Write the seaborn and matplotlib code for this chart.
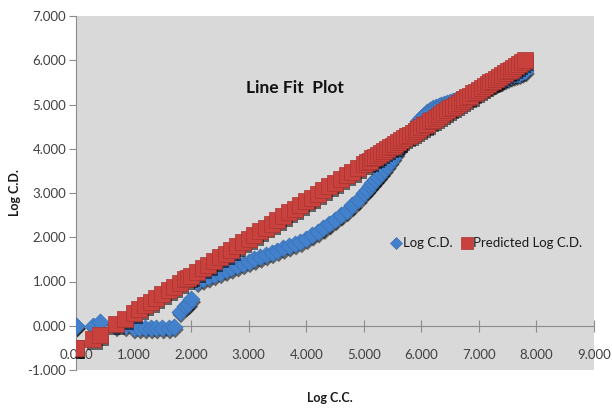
import matplotlib
matplotlib.use("Agg")
import matplotlib.pyplot as plt
import matplotlib.patheffects as pe
import seaborn as sns
import pandas as pd

log_cc = [0.0, 0.0, 0.30, 0.42, 0.69, 0.85, 1.00, 1.10, 1.20, 1.30, 1.39, 1.50, 1.61, 1.70, 1.80, 1.90, 1.95, 2.00,
          2.1, 2.2, 2.3, 2.4, 2.5, 2.6, 2.7, 2.8, 2.9, 3.0,
          3.1, 3.2, 3.3, 3.4, 3.5, 3.6, 3.7, 3.8, 3.9, 4.0,
          4.1, 4.2, 4.3, 4.4, 4.5, 4.6, 4.7, 4.8, 4.9, 5.0,
          5.05, 5.1, 5.15, 5.2, 5.25, 5.3, 5.35, 5.4, 5.45, 5.5,
          5.55, 5.6, 5.65, 5.7, 5.75, 5.8, 5.85, 5.9, 5.95, 6.0,
          6.05, 6.1, 6.15, 6.2, 6.25, 6.3, 6.35, 6.4, 6.45, 6.5,
          6.55, 6.6, 6.65, 6.7, 6.75, 6.8, 6.85, 6.9, 6.95, 7.0,
          7.05, 7.1, 7.15, 7.2, 7.25, 7.3, 7.35, 7.4, 7.45, 7.5,
          7.55, 7.6, 7.65, 7.7, 7.75, 7.8]

log_cd = [0.0, 0.0, 0.0, 0.08, 0.0, 0.0, -0.05, -0.05, -0.05, -0.05, -0.05, -0.05, -0.05, -0.02, 0.32, 0.45, 0.50, 0.60,
          1.00, 1.05, 1.10, 1.15, 1.20, 1.25, 1.30, 1.35, 1.40, 1.45,
          1.50, 1.55, 1.60, 1.65, 1.70, 1.75, 1.80, 1.85, 1.90, 1.97,
          2.05, 2.12, 2.20, 2.30, 2.40, 2.50, 2.60, 2.72, 2.85, 3.00,
          3.07, 3.15, 3.22, 3.30, 3.37, 3.45, 3.53, 3.62, 3.71, 3.80,
          3.90, 4.00, 4.10, 4.20, 4.29, 4.38, 4.46, 4.54, 4.62, 4.69,
          4.76, 4.82, 4.87, 4.91, 4.94, 4.97, 5.00, 5.02, 5.04, 5.06,
          5.08, 5.10, 5.12, 5.14, 5.17, 5.20, 5.22, 5.25, 5.28, 5.31,
          5.34, 5.37, 5.40, 5.43, 5.46, 5.49, 5.52, 5.55, 5.58, 5.61,
          5.64, 5.66, 5.68, 5.70, 5.73, 5.76]

predicted_log_cd = [-0.50, -0.50, -0.30, -0.20, 0.03, 0.16, 0.29, 0.37, 0.46, 0.54, 0.62, 0.71, 0.80, 0.88, 0.96, 1.05, 1.09, 1.13,
                    1.21, 1.30, 1.38, 1.47, 1.55, 1.63, 1.72, 1.80, 1.89, 1.97,
                    2.05, 2.14, 2.22, 2.31, 2.39, 2.47, 2.56, 2.64, 2.73, 2.81,
                    2.89, 2.98, 3.06, 3.15, 3.23, 3.31, 3.40, 3.48, 3.57, 3.65,
                    3.69, 3.73, 3.78, 3.82, 3.86, 3.90, 3.94, 3.99, 4.03, 4.07,
                    4.11, 4.15, 4.20, 4.24, 4.28, 4.32, 4.36, 4.41, 4.45, 4.49,
                    4.53, 4.57, 4.62, 4.66, 4.70, 4.74, 4.78, 4.83, 4.87, 4.91,
                    4.95, 4.99, 5.04, 5.08, 5.12, 5.16, 5.20, 5.25, 5.29, 5.33,
                    5.37, 5.41, 5.46, 5.50, 5.54, 5.58, 5.62, 5.67, 5.71, 5.75,
                    5.79, 5.83, 5.88, 5.92, 5.96, 6.00]

x_ticks = [0, 1, 2, 3, 4, 5, 6, 7, 8, 9]
y_ticks = [-1, 0, 1, 2, 3, 4, 5, 6, 7]

df = pd.DataFrame({"Log C.C.": log_cc, "Log C.D.": log_cd, "Predicted Log C.D.": predicted_log_cd})

sns.set_style("white")
plt.rcParams["font.family"] = ["Lato", "DejaVu Sans"]

fig = plt.figure(figsize=(6.12, 4.12), dpi=100)
ax = fig.add_axes([76 / 612, 1 - 370 / 412, (594 - 76) / 612, (370 - 16) / 412])
ax.set_facecolor("#d9d9d9")

blue = "#4381cc"
red = "#c8413d"
shadow = [pe.SimplePatchShadow(offset=(1.0, -2.2), shadow_rgbFace="black", alpha=0.55)]

# shadow layers (only the shadow of these copies is drawn)
sh1 = sns.scatterplot(data=df, x="Log C.C.", y="Log C.D.", marker="D", s=75, color="black",
                      edgecolor="none", ax=ax, zorder=2, legend=False).collections[-1]
sh1.set_path_effects(shadow)
sns.scatterplot(data=df, x="Log C.C.", y="Log C.D.", marker="D", s=75, color=blue,
                edgecolor="#3a6fb0", linewidth=0.5, ax=ax, zorder=3, label="Log C.D.")
sh2 = sns.scatterplot(data=df, x="Log C.C.", y="Predicted Log C.D.", marker="s", s=130, color="black",
                      edgecolor="none", ax=ax, zorder=4, legend=False).collections[-1]
sh2.set_path_effects(shadow)
sns.scatterplot(data=df, x="Log C.C.", y="Predicted Log C.D.", marker="s", s=130, color=red,
                edgecolor="#a83431", linewidth=0.5, ax=ax, zorder=5, label="Predicted Log C.D.")

for coll in (sh1, sh2):
    coll.set_facecolor((0, 0, 0, 0))

ax.set_xlim(0, 9)
ax.set_ylim(-1, 7)
ax.set_xticks(x_ticks)
ax.set_yticks(y_ticks)
ax.set_xticklabels([f"{v:.3f}" for v in x_ticks])
ax.set_yticklabels([f"{v:.3f}" for v in y_ticks])

for s in ["top", "right"]:
    ax.spines[s].set_visible(False)
ax.spines["bottom"].set_position(("data", 0))
ax.spines["bottom"].set_color("#8c8c8c")
ax.spines["left"].set_color("#8c8c8c")
ax.spines["bottom"].set_linewidth(0.8)
ax.spines["left"].set_linewidth(0.8)

ax.tick_params(axis="y", which="both", left=True, length=5, width=0.8, color="#8c8c8c",
               labelsize=9.5, labelcolor="#404040", pad=2)
ax.tick_params(axis="x", which="both", bottom=True, direction="inout", length=8, width=0.8, color="#8c8c8c",
               labelsize=9.5, labelcolor="#404040", pad=13)

ax.set_xlabel("Log C.C.", fontsize=9, fontweight="bold", color="#1a1a1a")
ax.set_ylabel("Log C.D.", fontsize=9, fontweight="bold", color="#1a1a1a")
ax.xaxis.set_label_coords(0.491, -0.063)
ax.yaxis.set_label_coords(-0.106, 0.5)

ax.text(3.8, 5.38, "Line Fit  Plot", fontsize=12.5, fontweight="bold", color="#111111",
        ha="center", va="center")

leg = ax.legend(loc="center left", bbox_to_anchor=(0.595, 0.36), ncol=2, frameon=False,
                handletextpad=0.0, columnspacing=0.6, handlelength=1.0, fontsize=9.5,
                markerscale=0.7, borderaxespad=0)
for t in leg.get_texts():
    t.set_color("#1a1a1a")

fig.savefig("out.png", dpi=100, facecolor="white")
